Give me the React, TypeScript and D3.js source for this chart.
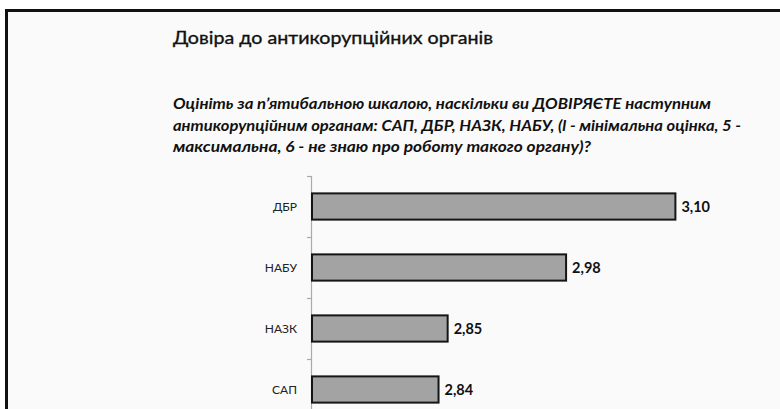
import React, { useEffect, useRef } from 'react';
import * as d3 from 'd3';

const categories = ['ДБР', 'НАБУ', 'НАЗК', 'САП'];
const values = [3.1, 2.98, 2.85, 2.84];
const valueLabels = ['3,10', '2,98', '2,85', '2,84'];

const title = 'Довіра до антикорупційних органів';
const questionLines = [
  'Оцініть за п\u2019ятибальною шкалою, наскільки ви ДОВІРЯЄТЕ наступним',
  'антикорупційним органам: САП, ДБР, НАЗК, НАБУ, (l - мінімальна оцінка, 5 -',
  'максимальна, 6 - не знаю про роботу такого органу)?',
];

const W = 780;
const H = 409;

const App: React.FC = () => {
  const svgRef = useRef<SVGSVGElement | null>(null);

  useEffect(() => {
    if (!svgRef.current) return;
    const svg = d3.select(svgRef.current);
    svg.selectAll('*').remove();

    const font = 'Lato, "Open Sans", sans-serif';

    // background + frame (left and top edges only visible)
    svg.append('rect').attr('width', W).attr('height', H).attr('fill', '#ffffff');
    svg.append('rect').attr('x', 6.5).attr('y', 10.5).attr('width', W + 20).attr('height', H + 20)
      .attr('fill', '#fafafa').attr('stroke', '#111').attr('stroke-width', 3);

    // title
    svg.append('text')
      .attr('x', 173).attr('y', 44)
      .attr('font-family', font).attr('font-size', 18)
      .attr('fill', '#111')
      .attr('stroke', '#111').attr('stroke-width', 0.35)
      .attr('textLength', 320).attr('lengthAdjust', 'spacingAndGlyphs')
      .text(title);

    const lineWidths = [538, 568, 418];
    svg.selectAll('text.q')
      .data(questionLines)
      .enter()
      .append('text')
      .attr('class', 'q')
      .attr('x', 173)
      .attr('y', (d, i) => 109 + i * 21.5)
      .attr('font-family', font).attr('font-size', 16)
      .attr('font-style', 'italic').attr('font-weight', 'bold')
      .attr('fill', '#111')
      .attr('textLength', (d, i) => lineWidths[i]).attr('lengthAdjust', 'spacingAndGlyphs')
      .text((d) => d);

    // scales
    const x = d3.scaleLinear().domain([2.7, 3.2]).range([311, 766.5]);
    const y = d3.scaleBand<string>().domain(categories).range([176, 176 + 61 * 4]).paddingInner(0.57).paddingOuter(0.285);

    // axis line and ticks
    svg.append('line').attr('x1', 311.5).attr('x2', 311.5).attr('y1', 176).attr('y2', H)
      .attr('stroke', '#aaa').attr('stroke-width', 1.2);
    const tickYs = categories.map((_, i) => 176 + i * 61);
    svg.selectAll('line.tick')
      .data(tickYs)
      .enter()
      .append('line')
      .attr('class', 'tick')
      .attr('x1', 307).attr('x2', 311.5)
      .attr('y1', (d) => d + 0.5).attr('y2', (d) => d + 0.5)
      .attr('stroke', '#aaa').attr('stroke-width', 1.2);

    const data = categories.map((c, i) => ({ c, v: values[i], label: valueLabels[i] }));

    // bars
    svg.selectAll('rect.bar')
      .data(data)
      .enter()
      .append('rect')
      .attr('class', 'bar')
      .attr('x', x(2.7) + 1)
      .attr('y', (d) => y(d.c) as number)
      .attr('width', (d) => x(d.v) - x(2.7) - 1)
      .attr('height', y.bandwidth())
      .attr('fill', '#a3a3a3')
      .attr('stroke', '#151515')
      .attr('stroke-width', 2);

    // category labels
    svg.selectAll('text.cat')
      .data(data)
      .enter()
      .append('text')
      .attr('class', 'cat')
      .attr('x', 297)
      .attr('y', (d) => (y(d.c) as number) + y.bandwidth() / 2)
      .attr('dy', '0.35em')
      .attr('text-anchor', 'end')
      .attr('font-family', font).attr('font-size', 12)
      .attr('fill', '#222')
      .text((d) => d.c);

    // value labels
    svg.selectAll('text.val')
      .data(data)
      .enter()
      .append('text')
      .attr('class', 'val')
      .attr('x', (d) => x(d.v) + 6)
      .attr('y', (d) => (y(d.c) as number) + y.bandwidth() / 2)
      .attr('dy', '0.35em')
      .attr('font-family', font).attr('font-size', 14.5).attr('font-weight', 'bold')
      .attr('fill', '#111')
      .text((d) => d.label);
  }, []);

  return (
    <svg
      ref={svgRef}
      width={W}
      height={H}
      style={{ position: 'absolute', left: 0, top: 0, display: 'block' }}
    ></svg>
  );
};

export default App;
